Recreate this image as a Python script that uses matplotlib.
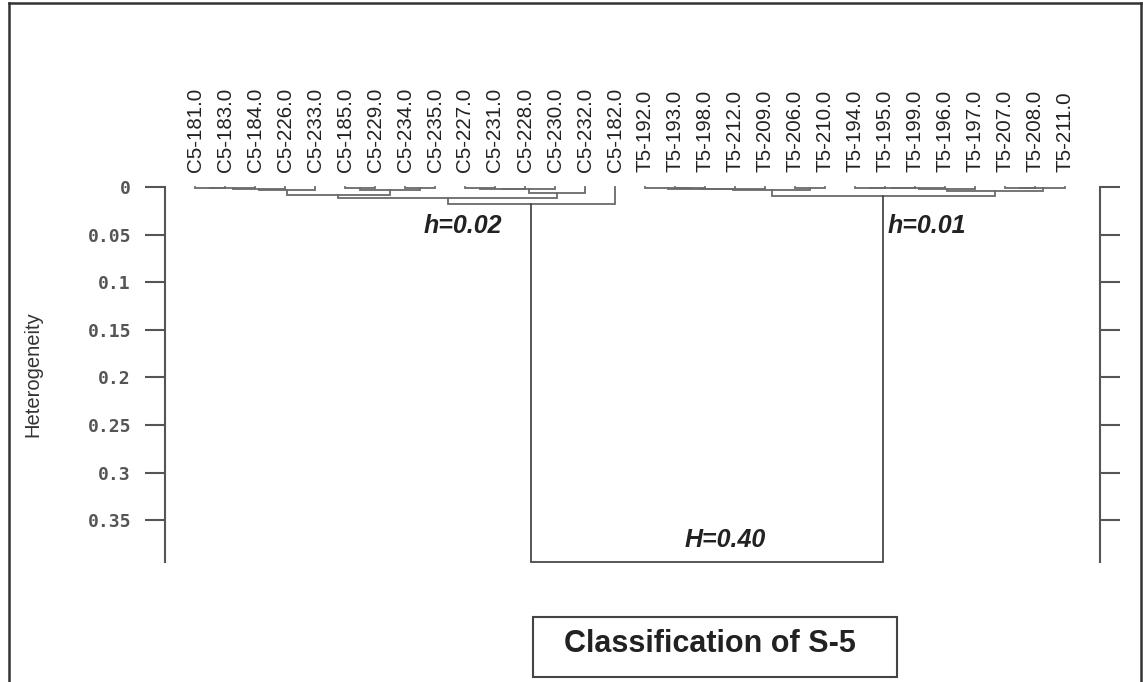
import matplotlib
matplotlib.use("Agg")
import matplotlib.pyplot as plt
from matplotlib.lines import Line2D
from matplotlib.patches import Rectangle

# ---------------- data ----------------
leaf_labels = [
    "C5-181.0", "C5-183.0", "C5-184.0", "C5-226.0", "C5-233.0",
    "C5-185.0", "C5-229.0", "C5-234.0", "C5-235.0", "C5-227.0",
    "C5-231.0", "C5-228.0", "C5-230.0", "C5-232.0", "C5-182.0",
    "T5-192.0", "T5-193.0", "T5-198.0", "T5-212.0", "T5-209.0",
    "T5-206.0", "T5-210.0", "T5-194.0", "T5-195.0", "T5-199.0",
    "T5-196.0", "T5-197.0", "T5-207.0", "T5-208.0", "T5-211.0",
]

# merges (scipy-like): node ids 0..29 are leaves, 30+ are merges in order
merge_left = [0, 30, 31, 32, 5, 7, 34, 33, 9, 38, 39, 40, 37, 42,
              16, 15, 45, 46, 20, 47, 22, 50, 51, 52, 27, 54, 53, 49, 43]
merge_right = [1, 2, 3, 4, 6, 8, 35, 36, 10, 11, 12, 13, 41, 14,
               17, 44, 18, 19, 21, 48, 23, 24, 25, 26, 28, 29, 55, 56, 57]
merge_height = [0.0008, 0.0012, 0.0016, 0.0035, 0.0015, 0.0010, 0.0030,
                0.0080, 0.0010, 0.0020, 0.0025, 0.0060, 0.0120, 0.0180,
                0.0010, 0.0014, 0.0016, 0.0018, 0.0012, 0.0035, 0.0010,
                0.0012, 0.0014, 0.0020, 0.0010, 0.0014, 0.0040, 0.0095,
                0.394]

y_ticks = [0, 0.05, 0.1, 0.15, 0.2, 0.25, 0.3, 0.35]
y_ticklabels = ["0", "0.05", "0.1", "0.15", "0.2", "0.25", "0.3", "0.35"]

annotations = [("h=0.02", 8.93, 0.041), ("h=0.01", 24.4, 0.041), ("H=0.40", 17.67, 0.371)]

# ---------------- figure ----------------
W, H = 1143, 682
fig = plt.figure(figsize=(W / 100, H / 100), dpi=100)
fig.patch.set_facecolor("white")

ax = fig.add_axes([165 / W, 1 - 562 / H, (1100 - 165) / W, (562 - 187) / H])
ax.set_facecolor("none")

n = len(leaf_labels)
pos = {i: float(i) for i in range(n)}
hgt = {i: 0.0 for i in range(n)}
line_col = "#6a6a6a"
for k, (a, b, h) in enumerate(zip(merge_left, merge_right, merge_height)):
    node = n + k
    xa, xb = pos[a], pos[b]
    col = "#4a4a4a" if h > 0.1 else line_col
    ax.plot([xa, xa, xb, xb], [hgt[a], h, h, hgt[b]], color=col, lw=1.3,
            clip_on=False, solid_joinstyle="miter")
    pos[node] = (xa + xb) / 2
    hgt[node] = h

ax.set_xlim(-1, n - 1 + 35 / 30)
ax.set_ylim(0.394, 0.0)

# spines
for s in ["top", "bottom"]:
    ax.spines[s].set_visible(False)
for s in ["left", "right"]:
    ax.spines[s].set_color("#555555")
    ax.spines[s].set_linewidth(1.5)

ax.set_yticks(y_ticks)
ax.set_yticklabels(y_ticklabels, fontfamily="DejaVu Sans Mono", fontsize=13,
                   color="#555555", fontweight="bold")
ax.tick_params(axis="y", direction="out", length=14.5, width=1.5, color="#555555",
               left=True, right=True, labelleft=True, labelright=False, pad=10)

ax.set_xticks(range(n))
ax.set_xticklabels(leaf_labels, rotation=90, fontfamily="Liberation Sans",
                   fontsize=14.8, color="#222222")
ax.tick_params(axis="x", top=True, bottom=False, labeltop=True, labelbottom=False,
               length=0, pad=11)

ax.set_ylabel("Heterogeneity", fontfamily="Liberation Sans", fontsize=14.5,
              color="#333333", labelpad=0)
ax.yaxis.set_label_coords(-(165 - 42) / 935, 0.5)

for txt, x, y in annotations:
    ax.text(x, y, txt, ha="center", va="center", fontfamily="Liberation Sans",
            fontsize=18, fontweight="bold", fontstyle="italic", color="#222222")

# caption box
fig.patches.append(Rectangle((533 / W, 1 - 677 / H), 364 / W, 60 / H,
                             transform=fig.transFigure, fill=False,
                             ec="#444444", lw=1.5))
fig.text(710 / W, 1 - 644 / H, "Classification of S-5", ha="center", va="center",
         fontfamily="Liberation Sans", fontsize=22, fontweight="bold",
         color="#222222")

# outer frame
for xs, ys in [([9, 9], [3, H + 5]), ([9, 1141], [3, 3]), ([1141, 1141], [3, H + 5])]:
    fig.add_artist(Line2D([x / W for x in xs], [1 - y / H for y in ys],
                          transform=fig.transFigure, color="#333333", lw=1.8))

fig.savefig("out.png", dpi=100, facecolor="white")
